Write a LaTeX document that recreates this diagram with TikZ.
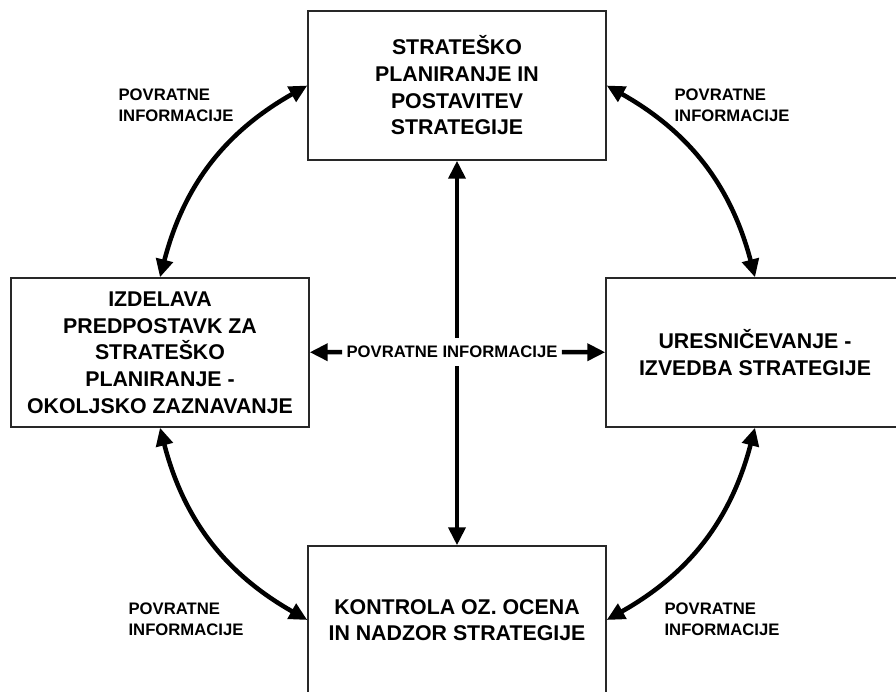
\documentclass[tikz,border=0pt]{standalone}
\usepackage{fontspec}
\setmainfont{Liberation Sans}
\usetikzlibrary{arrows.meta}

\tikzset{every picture/.style={line width=0.75pt}}

\begin{document}
\begin{tikzpicture}[x=0.75pt,y=0.75pt,yscale=-1,xscale=1,
	>={Triangle[length=13.5pt,width=12.5pt]},
	box/.style={draw={rgb, 255:red, 40; green, 40; blue, 40 }, line width=1pt, fill=white, align=center, inner sep=0pt, minimum width=223.5pt, minimum height=111.75pt, font=\fontsize{16}{20}\selectfont\bfseries},
	fbtext/.style={align=left, inner sep=2pt, font=\fontsize{12.5}{15.75}\selectfont\bfseries},
	link/.style={line width=3.4pt}]
	\clip (0,0) rectangle (896,692);

	%Boxes
	\node [box] (strat) at (457,85.5) {STRATEŠKO\\PLANIRANJE IN\\POSTAVITEV\\STRATEGIJE};
	\node [box] (izdel) at (160,352.5) {IZDELAVA\\PREDPOSTAVK ZA\\STRATEŠKO\\PLANIRANJE -\\OKOLJSKO ZAZNAVANJE};
	\node [box] (uresn) at (755,352.5) {URESNIČEVANJE -\\IZVEDBA STRATEGIJE};
	\node [box, minimum height=111pt] (kontr) at (457,620) {KONTROLA OZ. OCENA\\IN NADZOR STRATEGIJE};

	%Straight Lines
	\draw [link,<->] (strat) -- (kontr);
	\node [fbtext, fill=white, inner xsep=3pt, inner ysep=6pt] (fbmid) at (452,352) {POVRATNE INFORMACIJE};
	\draw [link,->] (fbmid) -- (izdel);
	\draw [link,->] (fbmid) -- (uresn);

	%Curved Lines
	\draw [link,<->] (strat.west) to [bend left=23] (izdel.north);
	\draw [link,<->] (strat.east) to [bend right=23] (uresn.north);
	\draw [link,<->] (izdel.south) to [bend left=23] (kontr.west);
	\draw [link,<->] (uresn.south) to [bend right=23] (kontr.east);

	% Text Node
	\node [fbtext] (fbtl) at (176,105) {POVRATNE\\INFORMACIJE};
	% Text Node
	\node [fbtext] (fbtr) at (732,105) {POVRATNE\\INFORMACIJE};
	% Text Node
	\node [fbtext] (fbbl) at (186,619) {POVRATNE\\INFORMACIJE};
	% Text Node
	\node [fbtext] (fbbr) at (722,619) {POVRATNE\\INFORMACIJE};

\end{tikzpicture}
\end{document}
